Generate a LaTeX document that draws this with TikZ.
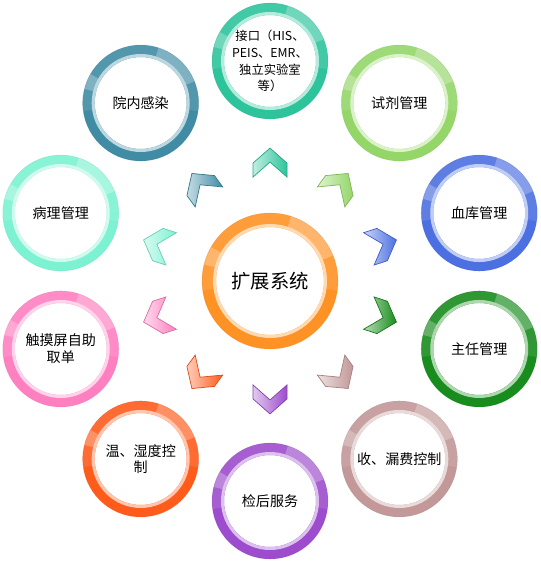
\documentclass[tikz,border=0pt]{standalone}
\usepackage{fontspec}
\setmainfont{Liberation Sans}
\newfontfamily\cjk{Noto Sans CJK SC}
\usepackage{xcolor}
\usepackage{tikz}
\usetikzlibrary{calc}

\definecolor{cHub}{RGB}{255,146,36}
\definecolor{cJK}{RGB}{45,196,156}
\definecolor{cSJ}{RGB}{148,214,104}
\definecolor{cXK}{RGB}{76,112,226}
\definecolor{cZR}{RGB}{24,140,28}
\definecolor{cSL}{RGB}{194,152,152}
\definecolor{cJH}{RGB}{156,76,204}
\definecolor{cWS}{RGB}{255,92,28}
\definecolor{cCM}{RGB}{255,128,192}
\definecolor{cBL}{RGB}{124,242,210}
\definecolor{cYN}{RGB}{64,140,164}

\tikzset{
    hub text/.style={font=\cjk\fontsize{11}{12}\selectfont, inner sep=0pt},
    item text/.style={font=\cjk\fontsize{8}{9.5}\selectfont, align=center, inner sep=0pt},
    top text/.style={font=\cjk\fontsize{7}{9.5}\selectfont, align=center, inner sep=0pt},
}

% glass ring: node, outer radius, inner radius, colour
\newcommand{\glassring}[4]{
    \fill[#4, even odd rule] (#1) circle (#2) (#1) circle (#3);
    \fill[white, opacity=0.1] ($(#1)+(-8:#2)$) arc[start angle=-8, end angle=188, radius=#2]
        -- ($(#1)+(188:#3)$) arc[start angle=188, end angle=-8, radius=#3] -- cycle;
    \fill[white, opacity=0.25] ($(#1)+(22:#2)$) arc[start angle=22, end angle=72, radius=#2]
        -- ($(#1)+(72:#3)$) arc[start angle=72, end angle=22, radius=#3] -- cycle;
    \fill[white, opacity=0.25] ($(#1)+(150:#2)$) arc[start angle=150, end angle=166, radius=#2]
        -- ($(#1)+(166:#3)$) arc[start angle=166, end angle=150, radius=#3] -- cycle;
    \draw[#4!35!white, line width=0.06cm] (#1) circle [radius=#3+0.03];
    \draw[#4!80!black, opacity=0.25, line width=0.3pt] (#1) circle (#2);
}

\begin{document}
\begin{tikzpicture}
    \useasboundingbox (-5.4,-5.62) rectangle (5.4,5.62);

    \node[hub text] (kz) at (0,0) {扩展系统};
    \glassring{kz}{1.36}{1.08}{cHub}

    \foreach \i/\a/\c/\t in {
        2/54/cSJ/{试剂管理},
        3/18/cXK/{血库管理},
        4/-18/cZR/{主任管理},
        5/-54/cSL/{收、漏费控制},
        6/-90/cJH/{检后服务},
        7/-126/cWS/{温、湿度控\\制},
        8/-162/cCM/{触摸屏自助\\取单},
        9/162/cBL/{病理管理},
        10/126/cYN/{院内感染}} {
        \node[item text] (m\i) at (\a:4.4) {\t};
    }
    \node[top text] (m1) at (90:4.4) {接口（HIS、\\PEIS、EMR、\\独立实验室\\等）};

    \foreach \i/\a/\c in {1/90/cJK, 2/54/cSJ, 3/18/cXK, 4/-18/cZR, 5/-54/cSL,
                          6/-90/cJH, 7/-126/cWS, 8/-162/cCM, 9/162/cBL, 10/126/cYN} {
        \glassring{m\i}{1.16}{0.92}{\c}
        % chevron pointing to the ring
        \begin{scope}[shift={($(kz)!0.536!(m\i)$)}, rotate=\a-90]
            \shade[left color=\c!30!white, right color=\c, draw=\c!85!black, line width=0.4pt]
                (0,0.3) -- (0.34,0) -- (0.34,-0.28) -- (0,0.02)
                -- (-0.34,-0.28) -- (-0.34,0) -- cycle;
        \end{scope}
    }
\end{tikzpicture}
\end{document}
